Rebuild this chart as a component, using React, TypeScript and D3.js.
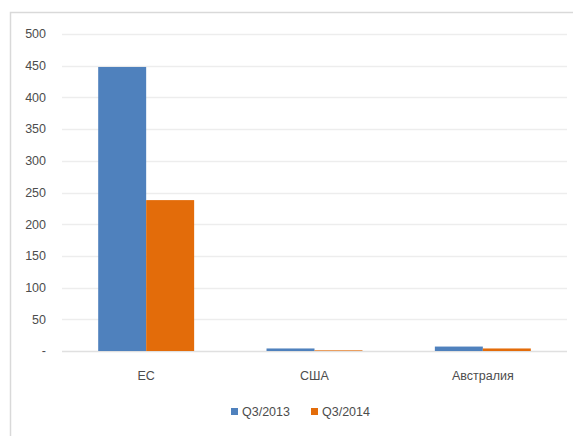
import React, { useEffect, useRef } from 'react';
import * as d3 from 'd3';

const categories = ['ЕС', 'США', 'Австралия'];
const seriesNames = ['Q3/2013', 'Q3/2014'];
const values2013 = [448, 4, 7];
const values2014 = [238, 1, 4];
const yTicks = [0, 50, 100, 150, 200, 250, 300, 350, 400, 450, 500];
const colors = ['#4f81bd', '#e36c0a'];

export default function App() {
  const ref = useRef<SVGSVGElement>(null);

  useEffect(() => {
    if (!ref.current) return;
    const svg = d3.select(ref.current);
    svg.selectAll('*').remove();

    const width = 573;
    const height = 436;
    const margin = { top: 34, right: 6, bottom: 85, left: 62 };
    const font = '"Liberation Sans", Arial, sans-serif';

    // Chart frame
    svg.append('rect')
      .attr('x', 10.5).attr('y', 12.5)
      .attr('width', 600).attr('height', 500)
      .attr('fill', '#fff')
      .attr('stroke', '#d9d9d9')
      .attr('stroke-width', 1.5);

    const y = d3.scaleLinear().domain([0, 500]).range([height - margin.bottom, margin.top]);
    const x0 = d3.scaleBand()
      .domain(categories)
      .range([margin.left, width - margin.right])
      .paddingInner(0)
      .paddingOuter(0);
    const inner = 0.57;
    const x1 = d3.scaleBand()
      .domain(seriesNames)
      .range([x0.bandwidth() * (1 - inner) / 2, x0.bandwidth() * (1 + inner) / 2]);

    const g = svg.append('g');

    // Gridlines
    g.selectAll('.grid')
      .data(yTicks)
      .join('line')
      .attr('x1', margin.left).attr('x2', width - margin.right)
      .attr('y1', (d) => Math.round(y(d)) + 0.5).attr('y2', (d) => Math.round(y(d)) + 0.5)
      .attr('stroke', (d) => (d === 0 ? '#e0e0e0' : '#ededed'))
      .attr('stroke-width', 1.5);

    // Y labels
    g.selectAll('.ylab')
      .data(yTicks)
      .join('text')
      .attr('x', 46)
      .attr('y', (d) => y(d))
      .attr('dy', '0.35em')
      .attr('text-anchor', 'end')
      .attr('font-family', font)
      .attr('font-size', '12.5px')
      .attr('fill', '#4d4d4d')
      .text((d) => (d === 0 ? '-' : String(d)));

    // Bars
    const series = [values2013, values2014];
    series.forEach((vals, si) => {
      g.selectAll(`.bar${si}`)
        .data(categories)
        .join('rect')
        .attr('x', (c) => x0(c)! + x1(seriesNames[si])!)
        .attr('y', (c, i) => y(vals[i]))
        .attr('width', x1.bandwidth())
        .attr('height', (c, i) => y(0) - y(vals[i]))
        .attr('fill', colors[si]);
    });

    // Category labels
    g.selectAll('.xlab')
      .data(categories)
      .join('text')
      .attr('x', (c) => x0(c)! + x0.bandwidth() / 2)
      .attr('y', 380)
      .attr('text-anchor', 'middle')
      .attr('font-family', font)
      .attr('font-size', '12.5px')
      .attr('fill', '#4d4d4d')
      .text((c) => c);

    // Legend
    const legend = g.append('g').attr('transform', 'translate(231,412)');
    const offsets = [0, 80];
    seriesNames.forEach((s, i) => {
      legend.append('rect')
        .attr('x', offsets[i]).attr('y', -4)
        .attr('width', 7).attr('height', 7)
        .attr('fill', colors[i]);
      legend.append('text')
        .attr('x', offsets[i] + 11)
        .attr('y', 0)
        .attr('dy', '0.35em')
        .attr('font-family', font)
        .attr('font-size', '12.5px')
        .attr('fill', '#4d4d4d')
        .text(s);
    });
  }, []);

  return (
    <svg
      ref={ref}
      width={573}
      height={436}
      style={{ position: 'absolute', left: 0, top: 0, background: '#fff' }}
    />
  );
}
